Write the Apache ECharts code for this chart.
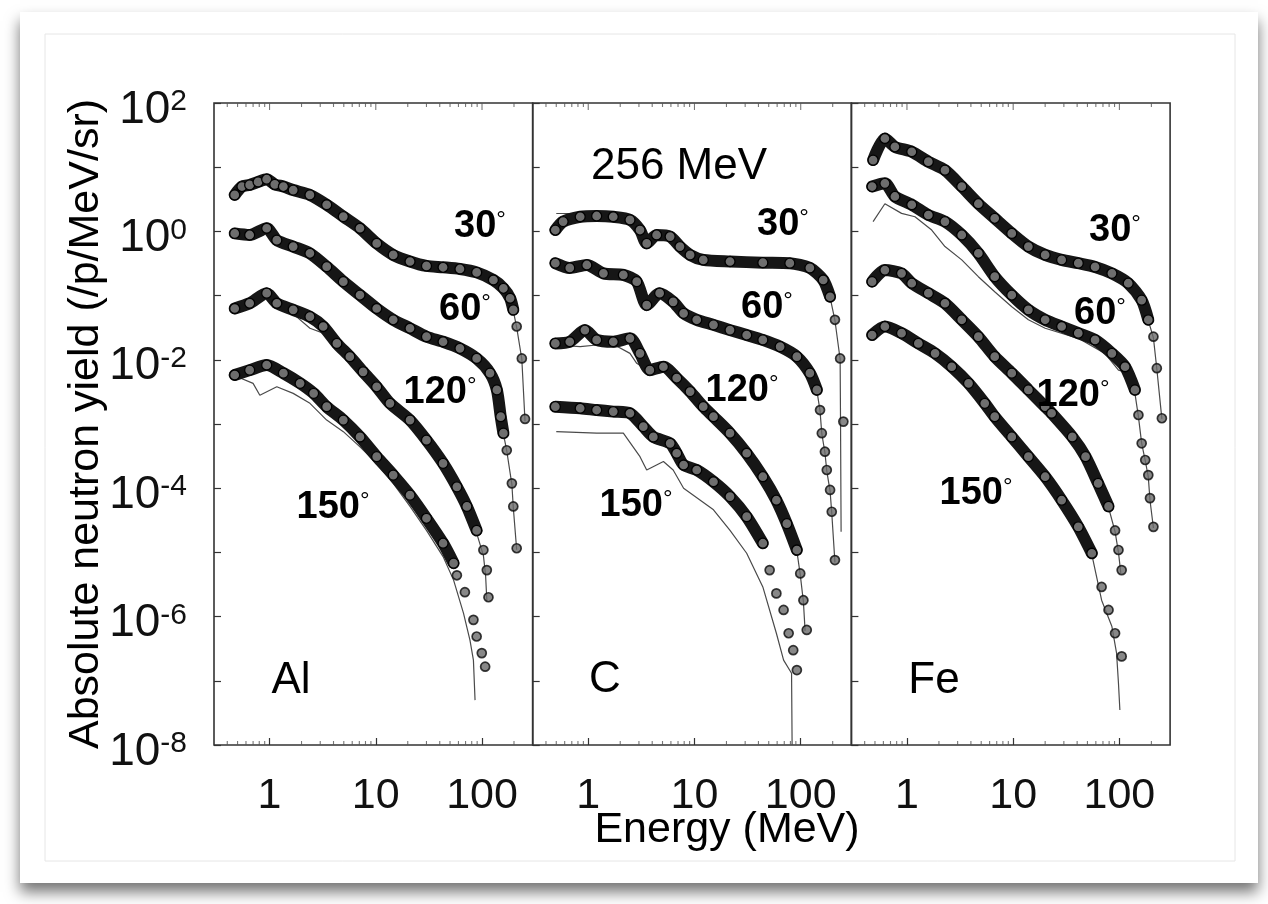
<!DOCTYPE html>
<html><head><meta charset="utf-8">
<script src="https://cdn.jsdelivr.net/npm/echarts@6/dist/echarts.min.js"></script>
<style>html,body{margin:0;padding:0;background:#fff}#c{width:1268px;height:904px}</style>
</head><body><div id="c"></div>
<script>
// ---------- DATA (Energy MeV, yield /p/MeV/sr) ----------
const targets = ['Al', 'C', 'Fe'];
const angleLabels = ['30', '60', '120', '150'];
const beamLabel = '256 MeV';
const xTitle = 'Energy (MeV)';
const yTitle = 'Absolute neutron yield (/p/MeV/sr)';
const energyMajorTicks = [1, 10, 100];
const energyMinorTicks = [0.4,0.5,0.6,0.7,0.8,0.9,2,3,4,5,6,7,8,9,20,30,40,50,60,70,80,90,200];

// Al
const al30 = [[0.47,3.7],[0.55,5.0],[0.65,5.3],[0.78,5.9],[0.94,6.5],[1.12,5.4],[1.35,5.0],[1.67,4.4],[2.4,3.7],[3.45,2.6],[4.95,1.7],[7.1,1.12],[10.2,0.65],[14.6,0.43],[21,0.34],[30,0.29],[43,0.276],[62,0.26],[89,0.23],[128,0.175],[159,0.13],[184,0.091],[197,0.06]];
const al30Tail = [[212,0.033],[237,0.0105],[254,0.0012]];
const al30Calc = [[0.47,3.5],[0.55,4.8],[0.65,5.1],[0.78,5.7],[0.94,6.2],[1.12,5.2],[1.35,4.9],[1.67,4.3],[2.4,3.6],[3.45,2.55],[4.95,1.65],[7.1,1.1],[10.2,0.64],[14.6,0.42],[21,0.335],[30,0.285],[43,0.27],[62,0.255],[89,0.225],[128,0.17],[159,0.125],[184,0.088],[197,0.058],[212,0.032],[237,0.0102],[254,0.0011]];
const al60 = [[0.47,0.93],[0.65,0.88],[0.94,1.12],[1.17,0.73],[1.67,0.58],[2.4,0.456],[3.45,0.282],[4.95,0.165],[7.1,0.102],[10.2,0.063],[14.6,0.042],[21,0.031],[30,0.0229],[43,0.0191],[62,0.0151],[89,0.0105],[119,0.0062],[138,0.0034],[150,0.0013],[159,7.2e-4]];
const al60Tail = [[171,3.9e-4],[191,1.19e-4],[197,5.2e-5],[212,1.16e-5]];
const al60Calc = [[0.47,0.9],[0.65,0.85],[0.94,1.05],[1.17,0.7],[1.67,0.55],[2.4,0.42],[3.45,0.27],[4.95,0.16],[7.1,0.1],[10.2,0.062],[14.6,0.041],[21,0.03],[30,0.022],[43,0.0185],[62,0.0145],[89,0.0102],[119,0.006],[138,0.0033],[150,0.0013],[159,7e-4],[171,3.8e-4],[191,1.15e-4],[197,5e-5],[212,1.1e-5]];
const al120 = [[0.47,0.063],[0.65,0.076],[0.94,0.109],[1.17,0.076],[1.67,0.06],[2.4,0.047],[3.2,0.033],[4.3,0.018],[5.7,0.0112],[7.6,0.0065],[10.2,0.0038],[13.6,0.0021],[21,0.00115],[30,5.6e-4],[43,2.44e-4],[58,1.05e-4],[72,5.2e-5],[89,2.2e-5]];
const al120Tail = [[103,1.09e-5],[111,5.3e-6],[115,2.0e-6]];
const al120Calc = [[0.47,0.06],[0.65,0.072],[0.94,0.1],[1.17,0.07],[1.67,0.052],[2.4,0.031],[3.2,0.026],[4.3,0.016],[5.7,0.0105],[7.6,0.0062],[10.2,0.0036],[13.6,0.002],[21,0.0011],[30,5.3e-4],[43,2.3e-4],[58,1.0e-4],[72,4.8e-5],[89,2.0e-5],[103,9e-6],[108,4.5e-6],[111,1.8e-6]];
const al150 = [[0.47,0.0058],[0.65,0.0069],[0.94,0.0083],[1.35,0.0062],[1.94,0.0043],[2.6,0.003],[3.45,0.00186],[4.95,0.00115],[7.1,6.3e-4],[10.2,3.1e-4],[14.6,1.6e-4],[21,7.8e-5],[30,3.4e-5],[43,1.39e-5],[54,6.8e-6]];
const al150Tail = [[58,4.4e-6],[69,2.4e-6],[83,8.9e-7],[89,4.9e-7],[99.5,2.7e-7],[107,1.66e-7]];
const al150Calc = [[0.49,0.0055],[0.7,0.0043],[0.81,0.0028],[1.17,0.0038],[1.67,0.003],[2.4,0.0021],[3.45,0.00115],[4.95,7.6e-4],[7.1,4.4e-4],[10.2,2.44e-4],[14.6,1.19e-4],[21,5.2e-5],[30,2.2e-5],[43,8.6e-6],[54,3.7e-6],[67,1.12e-6],[77,4.3e-7],[83,2.1e-7],[86,5e-8]];

// C
const c30 = [[0.49,1.05],[0.58,1.42],[0.84,1.69],[1.2,1.74],[1.72,1.69],[2.47,1.51],[3.07,1.05],[3.55,0.65],[4.4,0.88],[5.9,0.83],[7.3,0.58],[9.1,0.43],[12.1,0.36],[21.6,0.34],[44,0.326],[79,0.32],[122,0.27],[163,0.175],[189,0.096]];
const c30Tail = [[210,0.042],[235,0.0105],[252,0.00109]];
const c30Calc = [[0.5,1.9],[0.7,1.9],[0.84,1.75],[1.2,1.74],[1.72,1.69],[2.47,1.5],[3.07,1.0],[3.55,0.66],[4.4,0.86],[5.9,0.8],[7.3,0.57],[9.1,0.43],[12.1,0.36],[21.6,0.34],[44,0.32],[79,0.315],[122,0.265],[163,0.17],[189,0.094],[210,0.041],[235,0.0102],[237,0.0011],[240,2.1e-5]];
const c60 = [[0.49,0.32],[0.67,0.27],[0.97,0.3],[1.39,0.222],[2.14,0.21],[2.86,0.165],[3.55,0.071],[4.7,0.109],[6.3,0.08],[7.9,0.053],[10.5,0.042],[15.1,0.035],[21.6,0.029],[31,0.0243],[44,0.0204],[64,0.016],[92,0.0112],[122,0.0062],[142,0.0034]];
const c60Tail = [[152,0.00165],[158,7.2e-4],[169,3.7e-4],[176,1.92e-4],[189,9.4e-5],[196,4.3e-5],[210,7.6e-6]];
const c60Calc = [[0.49,0.31],[0.67,0.26],[0.97,0.29],[1.39,0.215],[2.14,0.2],[2.86,0.16],[3.55,0.07],[4.7,0.105],[6.3,0.078],[7.9,0.052],[10.5,0.041],[15.1,0.034],[21.6,0.028],[31,0.0235],[44,0.0198],[64,0.0155],[92,0.011],[122,0.006],[142,0.0033],[152,0.0016],[158,7e-4],[169,3.6e-4],[176,1.85e-4],[189,9e-5],[196,4.1e-5],[210,7e-6]];
const c120 = [[0.49,0.018],[0.67,0.0191],[0.93,0.029],[1.2,0.0204],[1.72,0.0191],[2.47,0.0216],[3.07,0.0126],[3.8,0.0069],[5.1,0.0078],[6.8,0.0052],[9.1,0.0032],[12.1,0.00186],[15.1,0.0013],[21.6,7.2e-4],[31,3.5e-4],[44,1.51e-4],[59,6.5e-5],[74,2.8e-5],[92,1.09e-5]];
const c120Tail = [[99,4.7e-6],[106,1.8e-6],[114,6.2e-7]];
const c120Calc = [[0.49,0.017],[0.84,0.016],[1.2,0.017],[1.72,0.0175],[2.47,0.0126],[2.86,0.0088],[3.8,0.0065],[5.1,0.0074],[6.8,0.005],[9.1,0.003],[12.1,0.0018],[15.1,0.00125],[21.6,7e-4],[31,3.4e-4],[44,1.45e-4],[59,6.2e-5],[74,2.7e-5],[92,1.05e-5],[99,4.5e-6],[106,1.7e-6],[110,6e-7]];
const c150 = [[0.49,0.00186],[0.84,0.00176],[1.2,0.00165],[1.72,0.00156],[2.47,0.00147],[3.3,9.1e-4],[4.1,6.3e-4],[5.9,5.0e-4],[6.8,3.5e-4],[7.9,2.3e-4],[10.5,1.92e-4],[15.1,1.26e-4],[21.6,7.4e-5],[31,3.6e-5],[44,1.39e-5]];
const c150Tail = [[51,5.3e-6],[59,2.3e-6],[69,1.27e-6],[77,5.5e-7],[85,3.0e-7],[92,1.47e-7]];
const c150Calc = [[0.5,7.6e-4],[1.2,7.2e-4],[2.14,7.2e-4],[3.07,3.1e-4],[3.55,1.92e-4],[5.1,2.6e-4],[6.3,1.92e-4],[7.9,1.0e-4],[15.1,4.6e-5],[21.6,2.2e-5],[31,9.7e-6],[44,2.9e-6],[59,5.5e-7],[69,2.1e-7],[82,1.31e-7],[83,1e-8]];

// Fe
const fe30 = [[0.48,12.9],[0.62,28],[0.77,20.8],[1.11,17.4],[1.59,12.2],[2.28,9.0],[3.28,5.0],[4.7,2.7],[6.7,1.6],[9.7,0.93],[13.9,0.58],[20,0.43],[28.6,0.36],[41,0.32],[59,0.28],[85,0.222],[121,0.156],[162,0.085],[187,0.042]];
const fe30Tail = [[209,0.0229],[225,0.0074],[251,0.00123]];
const fe30Calc = [[0.48,12],[0.62,26],[0.77,20],[1.11,17],[1.59,12],[2.28,8.8],[3.28,4.9],[4.7,2.65],[6.7,1.55],[9.7,0.9],[13.9,0.57],[20,0.42],[28.6,0.35],[41,0.31],[59,0.275],[85,0.215],[121,0.15],[162,0.082],[187,0.041],[209,0.022],[225,0.0072],[251,0.0012]];
const fe60 = [[0.47,5.0],[0.62,5.6],[0.77,3.5],[1.11,2.6],[1.59,1.8],[2.28,1.42],[3.28,0.88],[4.7,0.456],[6.7,0.197],[9.7,0.102],[13.9,0.06],[20,0.042],[28.6,0.033],[41,0.026],[59,0.0204],[85,0.0126],[113,0.0078],[140,0.0034]];
const fe60Tail = [[151,0.00138],[162,5.0e-4],[175,2.75e-4],[187,1.6e-4],[194,7.0e-5],[209,2.5e-5]];
const fe60Calc = [[0.48,1.42],[0.62,2.7],[0.89,1.91],[1.19,1.69],[1.71,1.05],[2.28,0.58],[3.28,0.36],[4.7,0.197],[6.7,0.115],[9.7,0.067],[13.9,0.042],[20,0.031],[41,0.0216],[73,0.0126],[98,0.0069],[113,0.0065],[140,0.003],[151,0.0013],[162,5e-4],[175,2.7e-4],[187,1.5e-4],[194,6.5e-5],[209,2.4e-5]];
const fe120 = [[0.47,0.165],[0.62,0.25],[0.89,0.222],[1.11,0.156],[1.59,0.109],[2.28,0.076],[3.28,0.042],[4.7,0.0229],[6.7,0.0112],[9.7,0.0062],[13.9,0.0034],[20,0.00186],[23,0.00147],[36,6.3e-4],[48,3.1e-4],[63,1.19e-4],[79,5.2e-5]];
const fe120Tail = [[91,2.2e-5],[98,1.09e-5],[105,5.3e-6]];
const fe120Calc = [[0.47,0.16],[0.62,0.24],[0.89,0.21],[1.11,0.15],[1.59,0.104],[2.28,0.072],[3.28,0.04],[4.7,0.022],[6.7,0.0108],[9.7,0.006],[13.9,0.0033],[20,0.0018],[23,0.0014],[36,6.1e-4],[48,3.0e-4],[63,1.15e-4],[79,5.0e-5],[91,2.1e-5],[98,1.0e-5],[103,4.8e-6]];
const fe150 = [[0.47,0.0243],[0.62,0.033],[0.89,0.026],[1.28,0.018],[1.84,0.0126],[2.64,0.0078],[3.8,0.0043],[5.4,0.0021],[6.7,0.0013],[9.7,6.3e-4],[13.9,3.1e-4],[20,1.51e-4],[28.6,6.5e-5],[41,2.5e-5],[55,9.7e-6]];
const fe150Tail = [[68,2.9e-6],[79,1.27e-6],[91,5.5e-7],[105,2.4e-7]];
const fe150Calc = [[0.47,0.023],[0.62,0.031],[0.89,0.025],[1.28,0.017],[1.84,0.012],[2.64,0.0075],[3.8,0.0041],[5.4,0.002],[6.7,0.00125],[9.7,6e-4],[13.9,3e-4],[20,1.45e-4],[28.6,6.2e-5],[41,2.4e-5],[55,9.2e-6],[68,1.8e-6],[85,7e-7],[94,2.7e-7],[98,9.1e-8],[101,3.5e-8]];

// ---------- CHART ----------
const FONT = '"Liberation Sans", Arial, Helvetica, sans-serif';
const panels = [
  {exp:[al30,al60,al120,al150], tail:[al30Tail,al60Tail,al120Tail,al150Tail], calc:[al30Calc,al60Calc,al120Calc,al150Calc]},
  {exp:[c30,c60,c120,c150], tail:[c30Tail,c60Tail,c120Tail,c150Tail], calc:[c30Calc,c60Calc,c120Calc,c150Calc]},
  {exp:[fe30,fe60,fe120,fe150], tail:[fe30Tail,fe60Tail,fe120Tail,fe150Tail], calc:[fe30Calc,fe60Calc,fe120Calc,fe150Calc]}
];
const L0 = 214, PW = 318.7, TOP = 103, PH = 642;
const Y_MIN = 1e-8, Y_MAX = 100;

const grid = [], xAxis = [], yAxis = [], series = [];
panels.forEach((p, i) => {
  grid.push({left: L0 + i * PW, top: TOP, width: PW, height: PH, show: true,
    borderColor: '#333', borderWidth: 1.6, backgroundColor: 'transparent'});
  xAxis.push({type: 'log', logBase: 10, gridIndex: i, min: 0.3, max: 300,
    axisLine: {show: false},
    axisTick: {show: true, inside: true, length: 7, lineStyle: {color: '#333', width: 1.2}},
    axisLabel: {show: true, fontSize: 43, fontFamily: FONT, color: '#111', margin: 30,
      showMinLabel: false, showMaxLabel: false, formatter: v => String(Math.round(v))},
    splitLine: {show: false}});
  yAxis.push({type: 'log', logBase: 10, gridIndex: i, min: Y_MIN, max: Y_MAX, interval: 1, splitNumber: 10,
    axisLine: {show: false},
    axisTick: {show: true, inside: true, length: 7, lineStyle: {color: '#333', width: 1.2}},
    axisLabel: {show: i === 0, margin: 27, padding: [14, 0, 0, 0],
      formatter: v => { const e = Math.round(Math.log10(v)); return Math.abs(e) % 2 === 0 ? '{b|10}{s|' + e + '}' : ''; },
      rich: {b: {fontSize: 46, fontFamily: FONT, color: '#111'},
             s: {fontSize: 30, fontFamily: FONT, color: '#111', verticalAlign: 'top'}}},
    splitLine: {show: false}});

  p.calc.forEach(d => series.push({type: 'line', xAxisIndex: i, yAxisIndex: i, data: d,
    symbol: 'none', lineStyle: {color: '#4a4a4a', width: 1.2}, z: 2, silent: true}));
  p.exp.forEach(d => series.push({type: 'line', xAxisIndex: i, yAxisIndex: i, data: d, smooth: 0.25,
    symbol: 'circle', symbolSize: 10, showSymbol: true,
    lineStyle: {color: '#161616', width: 12, cap: 'round', join: 'round'},
    itemStyle: {color: '#6e6e6e', borderColor: '#000', borderWidth: 1.3}, z: 3, silent: true}));
  p.tail.forEach(d => series.push({type: 'scatter', xAxisIndex: i, yAxisIndex: i, data: d,
    symbol: 'circle', symbolSize: 9,
    itemStyle: {color: '#6a6a6a', borderColor: '#0a0a0a', borderWidth: 1.7}, z: 4, silent: true}));
  // minor ticks (bottom & top) and major ticks on top
  const tk = (vals, y, len, off) => ({type: 'scatter', xAxisIndex: i, yAxisIndex: i, clip: false, silent: true,
    data: vals.map(v => [v, y]), symbol: 'rect', symbolSize: [1.1, len], symbolOffset: [0, off],
    itemStyle: {color: '#555'}, z: 5});
  series.push(tk(energyMinorTicks, Y_MIN, 4, -2));
  series.push(tk(energyMinorTicks, Y_MAX, 4, 2));
  series.push(tk(energyMajorTicks, Y_MAX, 7, 3.5));
});

function degText(x, y, t) {
  return {type: 'text', x: x, y: y, z: 50, style: {text: '{n|' + t + '}{d|°}', align: 'center', verticalAlign: 'middle',
    rich: {n: {fontSize: 38, fontWeight: 'bold', fontFamily: FONT, fill: '#000', color: '#000'},
           d: {fontSize: 24, fontFamily: FONT, fill: '#000', color: '#000', verticalAlign: 'top'}}}};
}
function plainText(x, y, t, size, rot) {
  return {type: 'text', x: x, y: y, z: 50, rotation: rot || 0,
    style: {text: t, font: size + 'px ' + FONT, fill: '#000', align: 'center', verticalAlign: 'middle'}};
}
const annPos = [
  [[480,227],[465,310],[440,393],[333,508]],
  [[783,225],[767,308],[742,391],[636,506]],
  [[1115,231],[1100,314],[1073,396],[976,494]]
];
const targetPos = [[291,681],[605,680],[934,681]];
const graphic = [
  {type: 'rect', z: -10, shape: {x: 20, y: 12, width: 1238, height: 871},
   style: {fill: '#fff', shadowBlur: 14, shadowOffsetY: 9, shadowColor: 'rgba(0,0,0,0.55)'}},
  {type: 'rect', z: -9, shape: {x: 45, y: 34, width: 1190, height: 827},
   style: {fill: 'none', stroke: '#e6e6e6', lineWidth: 1}},
  plainText(86, 424, yTitle, 43, Math.PI / 2),
  plainText(727, 830, xTitle, 43),
  plainText(679, 167, beamLabel, 44)
];
annPos.forEach((row, i) => row.forEach((pt, j) => graphic.push(degText(pt[0], pt[1], angleLabels[j]))));
targets.forEach((t, i) => graphic.push(plainText(targetPos[i][0], targetPos[i][1], t, 44)));

const chart = echarts.init(document.getElementById('c'), null, {renderer: 'canvas'});
chart.setOption({backgroundColor: '#fff', animation: false, grid, xAxis, yAxis, series, graphic});
</script></body></html>
